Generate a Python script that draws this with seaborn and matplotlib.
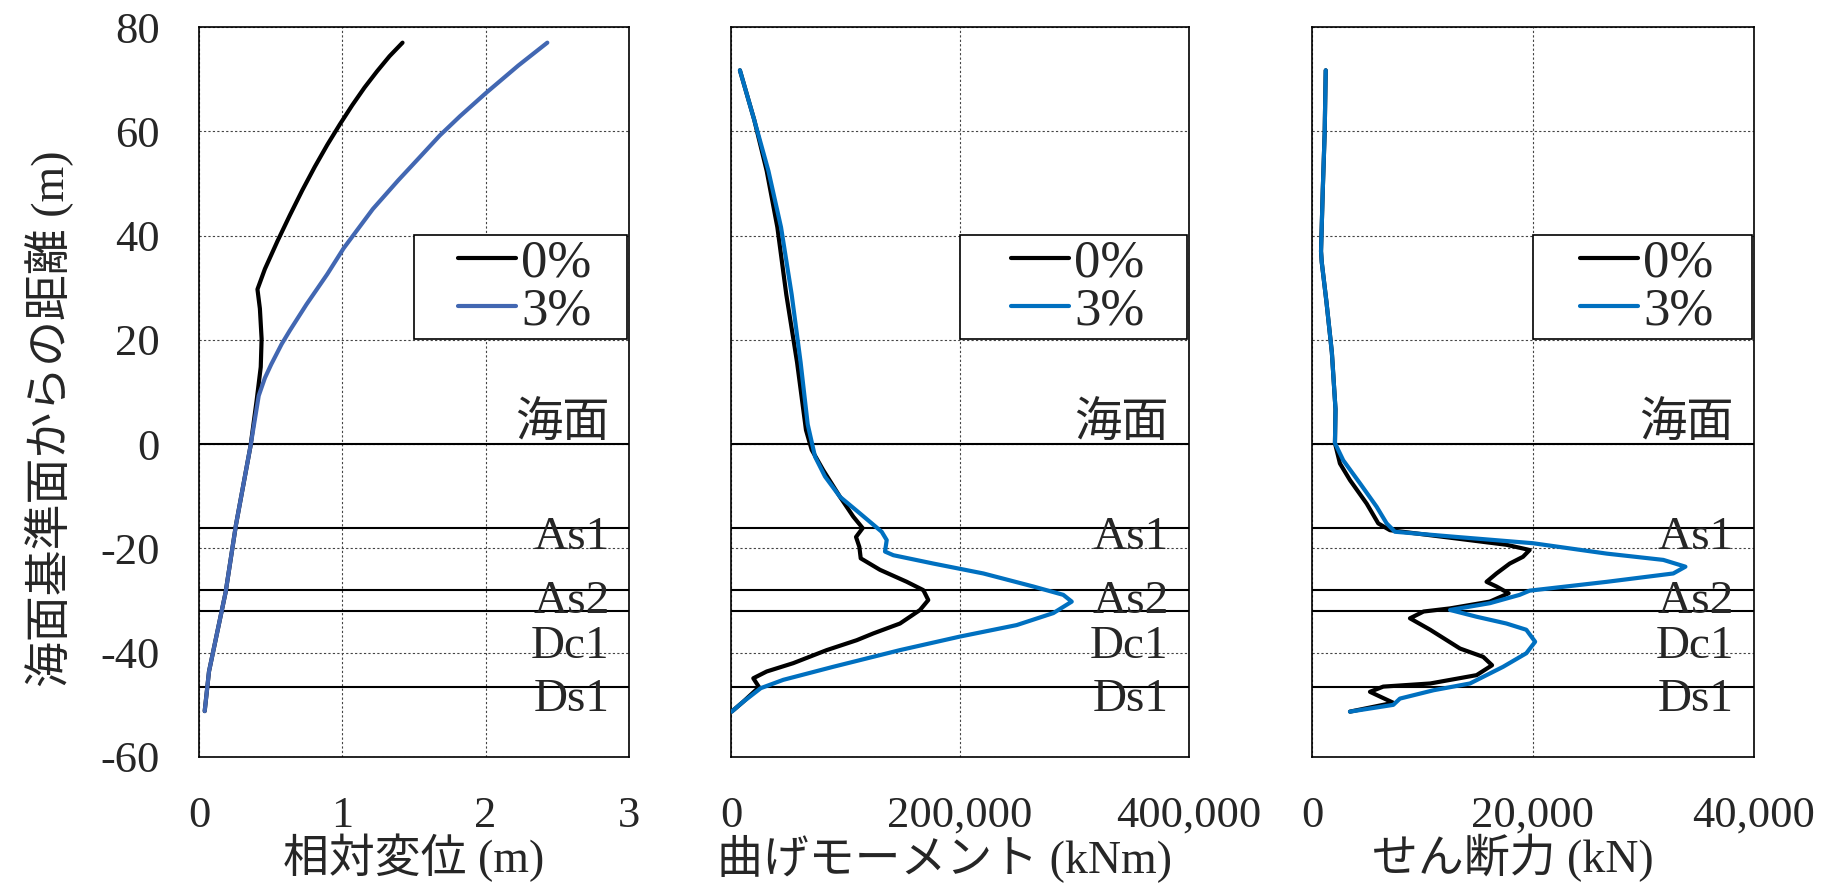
import matplotlib
matplotlib.use("Agg")
import matplotlib.pyplot as plt
import matplotlib.transforms as mtransforms
from matplotlib.patches import Rectangle
from matplotlib.ticker import FuncFormatter
import pandas as pd
import seaborn as sns

# 相対変位 (m)
disp_0_x = [1.42, 1.329, 1.242, 1.155, 1.069, 0.982, 0.895, 0.808, 0.721, 0.634, 0.547, 0.46,
            0.408, 0.425, 0.437, 0.431, 0.402, 0.36, 0.258, 0.186, 0.128, 0.07, 0.04]
disp_0_y = [77.0, 74.4, 71.5, 68.4, 65.0, 61.3, 57.4, 53.2, 48.7, 43.9, 38.9, 33.6,
            29.7, 26.0, 20.2, 14.8, 8.3, -0.3, -15.5, -28.4, -36.0, -43.6, -51.2]
disp_3_x = [2.43, 2.227, 2.0, 1.821, 1.68, 1.532, 1.39, 1.213, 1.01, 0.895, 0.75, 0.634,
            0.577, 0.504, 0.46, 0.417, 0.36, 0.258, 0.186, 0.128, 0.07, 0.04]
disp_3_y = [77.0, 72.6, 67.3, 62.9, 59.2, 54.8, 50.6, 45.1, 37.6, 32.6, 26.8, 21.8,
            19.2, 15.3, 12.7, 9.3, -0.3, -15.5, -28.4, -36.0, -43.6, -51.2]

# 曲げモーメント (kNm)
mom_0_x = [7800, 20300, 31200, 40500, 48300, 57700, 65500, 70500, 80600, 95200, 106800,
           115000, 109200, 112100, 113300, 130100, 153500, 168000, 172300, 165100, 147600,
           124300, 109800, 83600, 54400, 31200, 19500, 24500, 10700, 600]
mom_0_y = [71.7, 62.2, 52.4, 41.6, 28.7, 15.7, 2.7, -1.1, -5.0, -10.1, -13.9,
           -16.1, -17.8, -19.7, -21.9, -24.1, -26.4, -28.0, -29.9, -31.8, -34.4,
           -36.3, -37.6, -39.5, -42.0, -43.6, -44.9, -46.6, -49.4, -51.3]
mom_3_x = [7800, 20300, 32700, 43700, 53000, 60800, 67000, 73400, 82100, 95200, 112700,
           131600, 136000, 134500, 141800, 176700, 220400, 264000, 290200, 297600, 281500,
           249500, 200000, 147600, 89300, 45700, 26000, 10700, 600]
mom_3_y = [71.7, 62.2, 52.4, 41.6, 28.7, 15.7, 3.8, -2.4, -6.2, -10.1, -13.3,
           -16.8, -18.4, -20.6, -21.3, -22.9, -24.8, -27.3, -28.9, -30.2, -32.4,
           -34.7, -36.9, -39.5, -42.7, -45.2, -46.8, -49.4, -51.3]

# せん断力 (kN)
shear_0_x = [1245, 1150, 980, 820, 885, 1310, 1800, 2130, 2080, 2530, 3440, 4950, 6000,
             7060, 13100, 17600, 19700, 19100, 17900, 16700, 15800, 16700, 17800, 16100,
             12500, 10100, 8870, 10700, 12200, 13400, 15500, 16300, 14900, 10700, 6450,
             5250, 6150, 7360, 3440]
shear_0_y = [71.7, 59.8, 48.9, 37.0, 34.9, 27.3, 17.6, 6.7, 0.2, -3.7, -6.9, -11.4, -15.2,
             -16.5, -18.1, -19.3, -20.3, -21.6, -22.9, -24.8, -26.4, -27.3, -28.6, -30.2,
             -31.5, -32.1, -33.4, -35.6, -37.6, -39.2, -40.8, -42.4, -44.3, -45.9, -46.5,
             -47.5, -48.4, -49.6, -51.3]
shear_3_x = [1245, 1150, 980, 820, 885, 1310, 1800, 2130, 2080, 2830, 4340, 5850, 6760,
             7510, 13100, 20000, 26700, 31800, 33800, 32700, 26700, 19700, 18800, 16100,
             12500, 14900, 17600, 19400, 20200, 19400, 17300, 14300, 11000, 7960, 7360, 3440]
shear_3_y = [71.7, 59.8, 48.9, 37.0, 34.9, 27.3, 17.6, 6.7, 0.2, -3.1, -7.5, -12.0, -15.2,
             -16.8, -17.8, -19.0, -21.0, -22.2, -23.5, -24.8, -26.4, -28.1, -28.9, -30.5,
             -31.8, -33.1, -34.4, -35.6, -37.9, -40.1, -42.7, -45.9, -47.2, -48.8, -50.0, -51.3]

# 地層境界
layer_lines = [0, -16, -28, -32, -46.5]
layer_names = ["海面", "As1", "As2", "Dc1", "Ds1"]
layer_label_y = [3.7, -18.0, -30.2, -38.9, -49.1]

cases = ["0%", "3%"]
x_labels = ["相対変位 (m)", "曲げモーメント (kNm)", "せん断力 (kN)"]
x_limits = [(0, 3), (0, 400000), (0, 40000)]
x_ticks = [[0, 1, 2, 3], [0, 200000, 400000], [0, 20000, 40000]]
y_ticks = [-60, -40, -20, 0, 20, 40, 60, 80]

sns.set_style("white")
plt.rcParams["font.family"] = ["Liberation Serif", "Noto Sans CJK JP"]
plt.rcParams["axes.unicode_minus"] = False

fig = plt.figure(figsize=(18.27, 8.86), dpi=100)
positions = [[0.1089, 0.1456, 0.2354, 0.8239],
             [0.4001, 0.1456, 0.2507, 0.8239],
             [0.7181, 0.1456, 0.2419, 0.8239]]

panels = [
    (disp_0_x, disp_0_y, disp_3_x, disp_3_y, "#4267B2"),
    (mom_0_x, mom_0_y, mom_3_x, mom_3_y, "#0070C0"),
    (shear_0_x, shear_0_y, shear_3_x, shear_3_y, "#0070C0"),
]
label_x = [0.5, 0.467, 0.455]

for i, (x0, y0, x3, y3, blue) in enumerate(panels):
    ax = fig.add_axes(positions[i])
    df = pd.concat([
        pd.DataFrame({"v": x0, "z": y0, "case": cases[0]}),
        pd.DataFrame({"v": x3, "z": y3, "case": cases[1]}),
    ])
    pal = {cases[0]: "black", cases[1]: blue}
    for c in cases:
        sub = df[df["case"] == c]
        sns.lineplot(data=sub, x="v", y="z", color=pal[c], label=c, sort=False,
                     estimator=None, linewidth=3, ax=ax, zorder=4,
                     solid_joinstyle="round", solid_capstyle="round")

    for yl in layer_lines:
        ax.axhline(yl, color="black", linewidth=1.5, zorder=3)
    trans = mtransforms.blended_transform_factory(ax.transAxes, ax.transData)
    for name, ty in zip(layer_names, layer_label_y):
        ax.text(0.955, ty, name, transform=trans, ha="right", va="center",
                fontsize=34, zorder=5)

    ax.set_xlim(*x_limits[i])
    ax.set_ylim(-60, 80)
    ax.set_xticks(x_ticks[i])
    ax.set_yticks(y_ticks)
    if i > 0:
        ax.xaxis.set_major_formatter(FuncFormatter(lambda v, p: f"{int(v):,}"))
    ax.grid(True, color="#444444", linestyle=(0, (2, 2)), linewidth=0.8)
    ax.set_axisbelow(True)
    ax.tick_params(length=0, labelsize=32, pad=28)
    for s in ax.spines.values():
        s.set_color("black")
        s.set_linewidth(1.2)

    ax.set_xlabel(x_labels[i], fontsize=33)
    ax.xaxis.set_label_coords(label_x[i], -0.105)
    if i == 0:
        ax.set_ylabel("海面基準面からの距離 (m)", fontsize=33)
        ax.yaxis.set_label_coords(-0.29, 0.463)
    else:
        ax.set_ylabel("")
        ax.tick_params(labelleft=False)

    # 凡例
    ax.add_patch(Rectangle((0.50, 0.572), 0.495, 0.143, transform=ax.transAxes,
                           facecolor="white", edgecolor="black", linewidth=1.2, zorder=3))
    leg = ax.legend(loc="center", bbox_to_anchor=(0.757, 0.6435), frameon=False,
                    fontsize=38, handlelength=1.1, handletextpad=0.1, labelspacing=0.0,
                    borderaxespad=0)
    leg.set_zorder(6)
    for h in leg.get_lines():
        h.set_linewidth(3)

fig.savefig("out.png", dpi=100)
